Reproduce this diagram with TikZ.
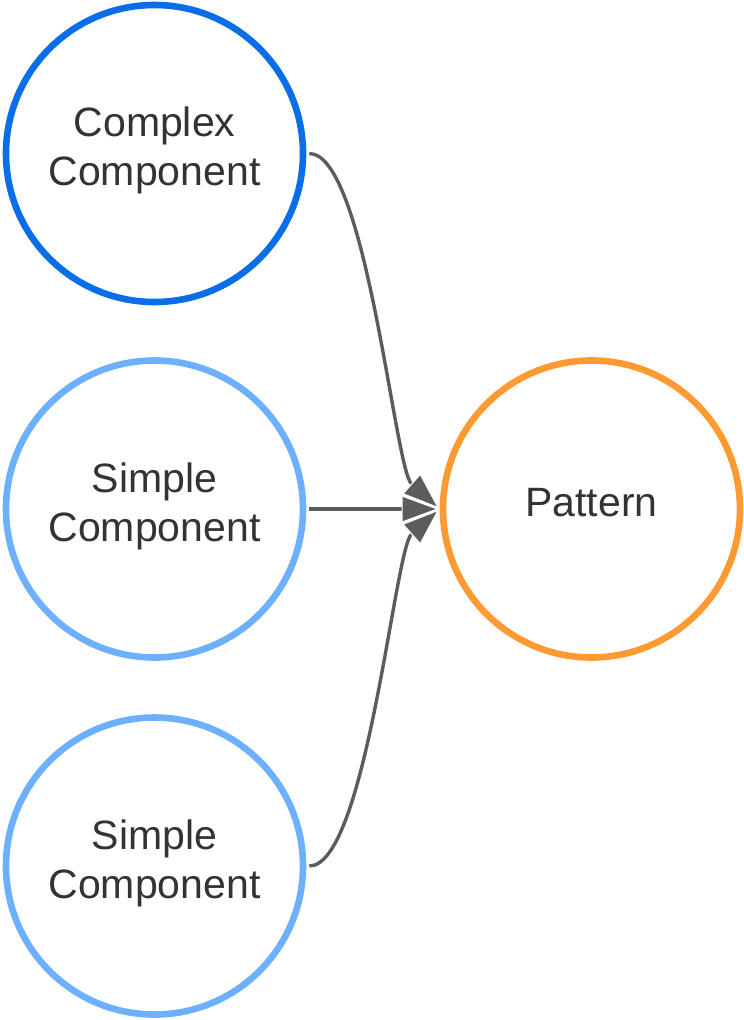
\documentclass[tikz,border=0pt]{standalone}
\usepackage{fontspec}
\setmainfont{Liberation Sans}
\usetikzlibrary{arrows.meta}
\definecolor{darkblue}{HTML}{0A6EE8}
\definecolor{lightblue}{HTML}{6CB0FF}
\definecolor{orangec}{HTML}{FF9A33}
\definecolor{linegray}{HTML}{5C5C5C}
\definecolor{txt}{HTML}{333333}
\begin{document}
\begin{tikzpicture}[x=1pt,y=-1pt,
  comp/.style={circle, draw, line width=6.6pt, minimum size=297pt, inner sep=0pt,
    fill=white, text=txt, align=center, text depth=14pt,
    font=\fontsize{41}{49}\selectfont},
  link/.style={draw=linegray, line width=3.4pt, shorten <=3pt, shorten >=1pt,
    -{Triangle[length=37pt,width=27pt,color=white,fill=linegray,line width=1pt]}}
]
\useasboundingbox (0,0) rectangle (744,1020);

% components and the pattern they form
\node[comp, draw=darkblue]  (complex) at (154.5,153.5) {Complex\\Component};
\node[comp, draw=lightblue] (simpleA) at (154.5,509)   {Simple\\Component};
\node[comp, draw=lightblue] (simpleB) at (154.5,866)   {Simple\\Component};
\node[comp, draw=orangec]   (pattern) at (591.5,509)   {Pattern};

% connectors into the pattern
\draw[link] (complex.east) .. controls +(60,0) and +(-45,-40) .. (pattern.west);
\draw[link] (simpleB.east) .. controls +(60,0) and +(-45,40) .. (pattern.west);
\draw[link] (simpleA.east) -- (pattern.west);
\end{tikzpicture}
\end{document}
